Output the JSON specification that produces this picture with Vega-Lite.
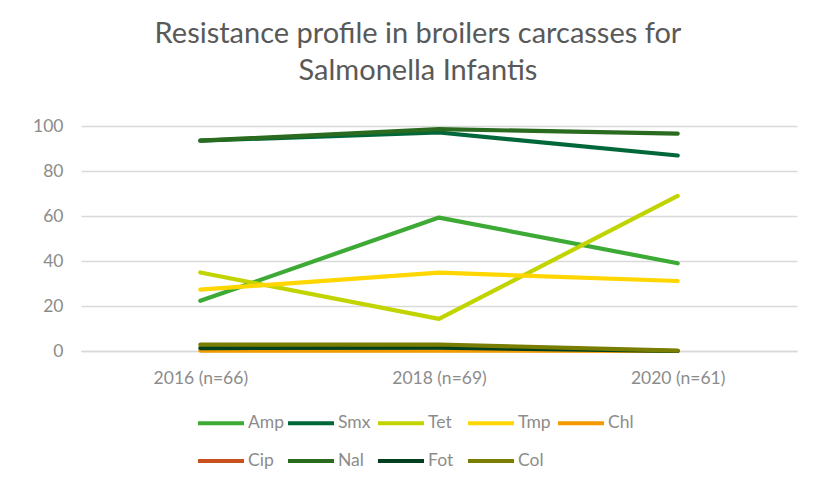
{
  "$schema": "https://vega.github.io/schema/vega-lite/v6.json",
  "width": 716,
  "height": 225,
  "autosize": {"type": "none"},
  "padding": {"left": 81, "top": 126, "right": 30, "bottom": 135},
  "background": "white",
  "title": {
    "text": ["Resistance profile in broilers carcasses for", "Salmonella Infantis"],
    "font": "Lato",
    "fontSize": 29,
    "fontWeight": "normal",
    "color": "#595959",
    "anchor": "middle",
    "dx": -21,
    "lineHeight": 37,
    "offset": 31
  },
  "data": {
    "values": [
      {"year": "2016 (n=66)", "drug": "Amp", "value": 22.3},
      {"year": "2018 (n=69)", "drug": "Amp", "value": 59.3},
      {"year": "2020 (n=61)", "drug": "Amp", "value": 39.0},
      {"year": "2016 (n=66)", "drug": "Smx", "value": 93.5},
      {"year": "2018 (n=69)", "drug": "Smx", "value": 97.1},
      {"year": "2020 (n=61)", "drug": "Smx", "value": 86.9},
      {"year": "2016 (n=66)", "drug": "Tet", "value": 34.9},
      {"year": "2018 (n=69)", "drug": "Tet", "value": 14.3},
      {"year": "2020 (n=61)", "drug": "Tet", "value": 68.9},
      {"year": "2016 (n=66)", "drug": "Tmp", "value": 27.3},
      {"year": "2018 (n=69)", "drug": "Tmp", "value": 34.8},
      {"year": "2020 (n=61)", "drug": "Tmp", "value": 31.1},
      {"year": "2016 (n=66)", "drug": "Chl", "value": 0.2},
      {"year": "2018 (n=69)", "drug": "Chl", "value": 0.2},
      {"year": "2020 (n=61)", "drug": "Chl", "value": 0},
      {"year": "2016 (n=66)", "drug": "Cip", "value": null},
      {"year": "2018 (n=69)", "drug": "Cip", "value": null},
      {"year": "2020 (n=61)", "drug": "Cip", "value": null},
      {"year": "2016 (n=66)", "drug": "Nal", "value": 93.5},
      {"year": "2018 (n=69)", "drug": "Nal", "value": 98.6},
      {"year": "2020 (n=61)", "drug": "Nal", "value": 96.6},
      {"year": "2016 (n=66)", "drug": "Fot", "value": 1.3},
      {"year": "2018 (n=69)", "drug": "Fot", "value": 1.5},
      {"year": "2020 (n=61)", "drug": "Fot", "value": 0},
      {"year": "2016 (n=66)", "drug": "Col", "value": 2.8},
      {"year": "2018 (n=69)", "drug": "Col", "value": 2.9},
      {"year": "2020 (n=61)", "drug": "Col", "value": 0.2}
    ]
  },
  "mark": {"type": "line", "strokeWidth": 4.2, "strokeCap": "round", "strokeJoin": "round"},
  "encoding": {
    "x": {
      "field": "year",
      "type": "ordinal",
      "sort": null,
      "scale": {"type": "point", "padding": 0.5},
      "axis": {
        "title": null,
        "labelAngle": 0,
        "ticks": false,
        "grid": false,
        "domain": true,
        "domainColor": "#d9d9d9",
        "domainWidth": 1.5,
        "labelPadding": 18,
        "labelFont": "Lato",
        "labelFontSize": 17.5,
        "labelColor": "#8c8c8c"
      }
    },
    "y": {
      "field": "value",
      "type": "quantitative",
      "scale": {"domain": [0, 100], "nice": false},
      "axis": {
        "title": null,
        "values": [0, 20, 40, 60, 80, 100],
        "ticks": false,
        "domain": false,
        "grid": true,
        "gridColor": "#d9d9d9",
        "gridWidth": 1.5,
        "labelPadding": 18,
        "labelFont": "Lato",
        "labelFontSize": 17.5,
        "labelColor": "#8c8c8c"
      }
    },
    "color": {
      "field": "drug",
      "type": "nominal",
      "scale": {
        "domain": ["Amp", "Smx", "Tet", "Tmp", "Chl", "Cip", "Nal", "Fot", "Col"],
        "range": ["#3DAA35", "#00673A", "#C2D400", "#FFD600", "#F29A00", "#C9511E", "#2A6B1F", "#00401F", "#7A7E00"]
      },
      "legend": {
        "title": null,
        "orient": "none",
        "direction": "horizontal",
        "legendX": 115,
        "legendY": 272,
        "columns": 5,
        "gridAlign": "all",
        "columnPadding": -5,
        "rowPadding": 4,
        "symbolType": "stroke",
        "symbolSize": 2116,
        "symbolStrokeWidth": 4,
        "symbolOffset": 0,
        "labelOffset": 2,
        "labelFont": "Lato",
        "labelFontSize": 17.5,
        "labelColor": "#8c8c8c"
      }
    }
  },
  "config": {"view": {"stroke": null}}
}
